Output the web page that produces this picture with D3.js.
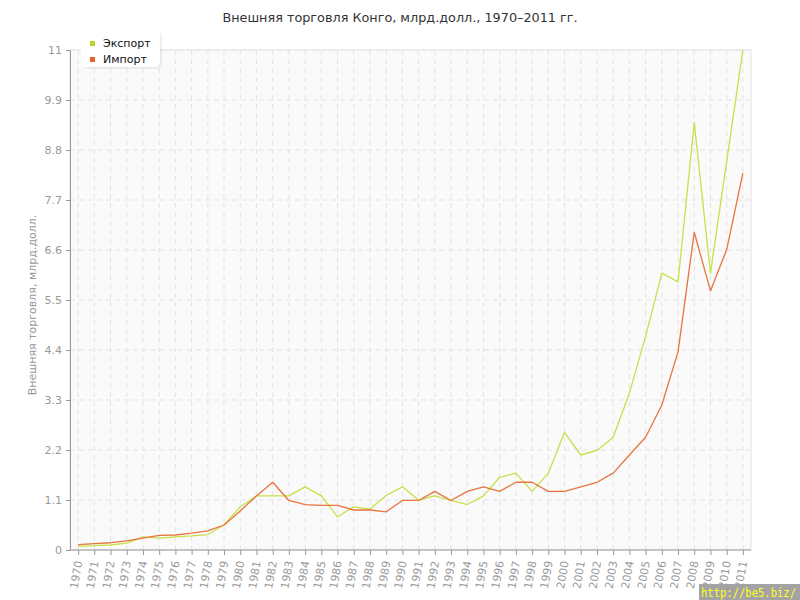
<!DOCTYPE html>
<html><head><meta charset="utf-8">
<script src="https://cdn.jsdelivr.net/npm/d3@7"></script>
<style>body{margin:0;background:#fff;}svg{display:block;font-family:"DejaVu Sans",Verdana,sans-serif;}</style>
</head><body>
<svg id="c" width="800" height="600"></svg>
<script>
const years = ["1970","1971","1972","1973","1974","1975","1976","1977","1978","1979","1980","1981","1982","1983","1984","1985","1986","1987","1988","1989","1990","1991","1992","1993","1994","1995","1996","1997","1998","1999","2000","2001","2002","2003","2004","2005","2006","2007","2008","2009","2010","2011"];
const exportVals = [0.08,0.095,0.11,0.15,0.29,0.26,0.29,0.31,0.34,0.55, 0.95,1.19,1.19,1.19,1.39,1.19,0.73,0.95,0.90,1.20, 1.39,1.10,1.19,1.09,1.00,1.19,1.60,1.69,1.29,1.69, 2.59,2.09,2.19,2.48,3.45,4.70,6.09,5.90,9.40,6.09,8.55,11.0];
const importVals = [0.12,0.14,0.16,0.20,0.26,0.32,0.33,0.37,0.42,0.55, 0.86,1.19,1.49,1.09,1.00,0.98,0.98,0.88,0.88,0.84, 1.09,1.09,1.29,1.09,1.29,1.39,1.29,1.49,1.49,1.29, 1.29,1.39,1.49,1.69,2.09,2.48,3.19,4.36,6.99,5.70,6.61,8.29];
const yTicks = [0,1.1,2.2,3.3,4.4,5.5,6.6,7.7,8.8,9.9,11];
const yTickLabels = ["0","1.1","2.2","3.3","4.4","5.5","6.6","7.7","8.8","9.9","11"];
const seriesNames = ["Экспорт","Импорт"];
const lineColors = ["#c6e04a","#e8743e"];
const legendColors = ["#b7d62e","#e8622e"];

const svg = d3.select("#c");
const L = 70, R = 751, T = 50, B = 550;
const x = d3.scalePoint().domain(years).range([L, R]).padding(0.5);
const y = d3.scaleLinear().domain([0, 11]).range([B, T]);

// title
svg.append("text").attr("x", 400).attr("y", 22).attr("text-anchor", "middle")
  .attr("font-size", 12.8).attr("fill", "#333").text("Внешняя торговля Конго, млрд.долл., 1970–2011 гг.");

// plot background
svg.append("rect").attr("x", L).attr("y", T).attr("width", R - L).attr("height", B - T)
  .attr("fill", "#fafafa").attr("stroke", "#e2e2e2");

// grid
const grid = svg.append("g").attr("stroke", "#e3e3e3").attr("stroke-dasharray", "5,4");
grid.selectAll(".v").data(years).join("line")
  .attr("x1", d => x(d)).attr("x2", d => x(d)).attr("y1", T).attr("y2", B);
grid.selectAll(".h").data(yTicks.slice(1)).join("line")
  .attr("x1", L).attr("x2", R).attr("y1", d => y(d)).attr("y2", d => y(d));

// axes
const yAxis = d3.axisLeft(y).tickValues(yTicks).tickFormat((d, i) => yTickLabels[i]).tickSize(4).tickPadding(4);
const gy = svg.append("g").attr("transform", `translate(${L},0)`).call(yAxis);
gy.select(".domain").attr("stroke", "#999");
gy.selectAll(".tick line").attr("stroke", "#999");
gy.selectAll(".tick text").attr("fill", "#999").attr("font-size", 11).attr("font-family", "DejaVu Sans");

const xAxis = d3.axisBottom(x).tickSize(5).tickSizeOuter(0);
const gx = svg.append("g").attr("transform", `translate(0,${B})`).call(xAxis);
gx.select(".domain").attr("stroke", "#999").attr("d", `M${L},0H${R}`);
gx.selectAll(".tick line").attr("stroke", "#999");
gx.selectAll(".tick text").attr("fill", "#999").attr("font-size", 11).attr("font-family", "DejaVu Sans")
  .attr("text-anchor", "end").attr("dy", "0.35em")
  .attr("transform", "translate(0,11) rotate(-80)").attr("x", 0).attr("y", 0);

// y axis title
svg.append("text").attr("transform", `translate(36,${(T + B) / 2 + 5}) rotate(-90)`)
  .attr("text-anchor", "middle").attr("font-size", 11).attr("fill", "#999")
  .text("Внешняя торговля, млрд.долл.");

// lines
const line = d3.line().x((d, i) => x(years[i])).y(d => y(d));
[exportVals, importVals].forEach((vals, k) => {
  svg.append("path").datum(vals).attr("d", line).attr("fill", "none")
    .attr("stroke", lineColors[k]).attr("stroke-width", 1.3).attr("stroke-linejoin", "round");
});

// legend
const lg = svg.append("g");
lg.append("rect").attr("x", 82).attr("y", 30).attr("width", 79).attr("height", 38).attr("rx", 5)
  .attr("fill", "#000").attr("opacity", 0.06).attr("transform", "translate(1,1)");
lg.append("rect").attr("x", 81).attr("y", 29).attr("width", 79).attr("height", 38).attr("rx", 5)
  .attr("fill", "#fff");
seriesNames.forEach((n, i) => {
  lg.append("rect").attr("x", 90).attr("y", 41 + i * 16).attr("width", 5).attr("height", 5).attr("fill", legendColors[i]);
  lg.append("text").attr("x", 103).attr("y", 47 + i * 16).attr("font-size", 11).attr("fill", "#111").text(n);
});

// watermark
svg.append("rect").attr("x", 699).attr("y", 584).attr("width", 101).attr("height", 16).attr("fill", "#a3a3a3");
svg.append("text").attr("x", 701).attr("y", 597).attr("font-size", 12).attr("font-family", "DejaVu Sans Mono")
  .attr("textLength", 95).attr("lengthAdjust", "spacingAndGlyphs")
  .attr("fill", "#ffff22").text("http://be5.biz/");
</script>
</body></html>
